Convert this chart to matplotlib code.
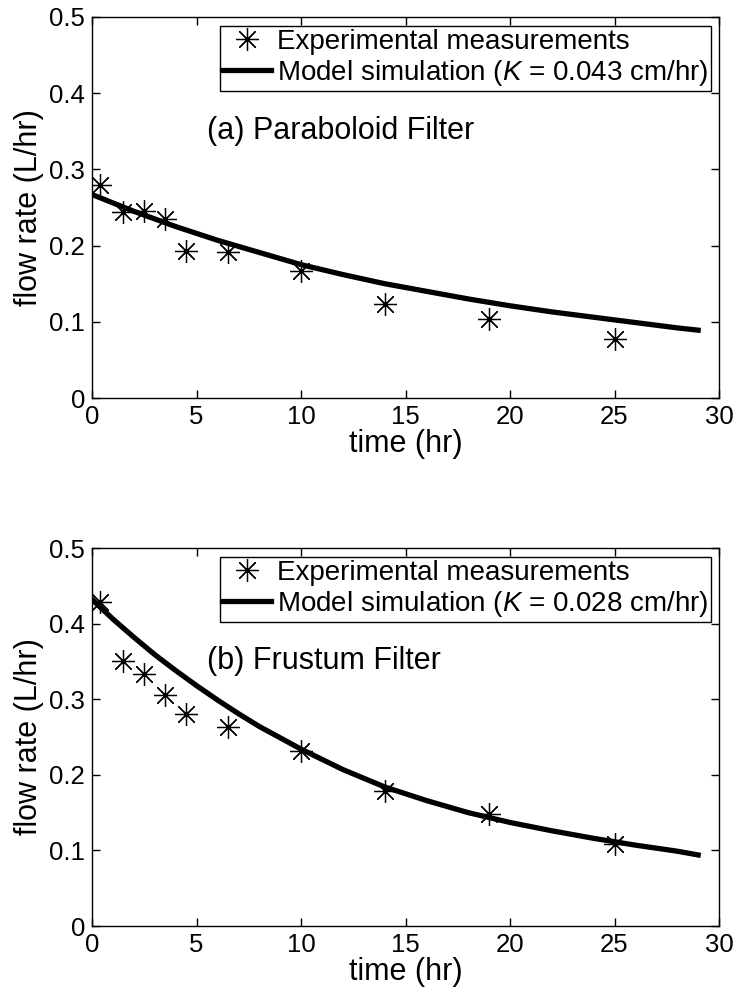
import matplotlib
matplotlib.use("Agg")
import matplotlib.pyplot as plt

plt.rcParams['font.family'] = ['Liberation Sans', 'DejaVu Sans']
plt.rcParams['mathtext.fontset'] = 'custom'
plt.rcParams['mathtext.it'] = 'Liberation Sans:italic'
plt.rcParams['mathtext.rm'] = 'Liberation Sans'

# measured points (time in hr, flow rate in L/hr)
t_meas = [0.4, 1.5, 2.5, 3.5, 4.5, 6.5, 10, 14, 19, 25]
q_para = [0.280, 0.244, 0.245, 0.235, 0.193, 0.192, 0.166, 0.124, 0.104, 0.077]
q_frus = [0.429, 0.350, 0.334, 0.305, 0.280, 0.263, 0.231, 0.178, 0.148, 0.109]

# model curves
t_model = [0, 1, 2, 3, 4, 5, 6, 7, 8, 9, 10, 12, 14, 16, 18, 20, 22, 24, 26, 28, 29]
q_para_model = [0.267, 0.256, 0.245, 0.235, 0.225, 0.216, 0.207, 0.199, 0.191, 0.183, 0.175,
                0.162, 0.150, 0.140, 0.130, 0.121, 0.113, 0.106, 0.099, 0.092, 0.089]
q_frus_model = [0.432, 0.406, 0.382, 0.359, 0.338, 0.318, 0.299, 0.281, 0.264, 0.249, 0.234,
                0.207, 0.184, 0.166, 0.150, 0.137, 0.126, 0.116, 0.107, 0.099, 0.094]

panels = [
    ("(a) Paraboloid Filter", q_para, q_para_model, "0.043"),
    ("(b) Frustum Filter", q_frus, q_frus_model, "0.028"),
]

fig = plt.figure(figsize=(7.38, 9.98), dpi=100)
axes_rects = [[0.1247, 0.6012, 0.8496, 0.3818], [0.1247, 0.0721, 0.8496, 0.3788]]

asterisk = (8, 2, 0)

for rect, (title, q_meas, q_model, k) in zip(axes_rects, panels):
    ax = fig.add_axes(rect)
    ax.plot(t_meas, q_meas, linestyle='none', marker=asterisk, markersize=16.5,
            markeredgewidth=0.9, color='black', label='Experimental measurements')
    ax.plot(t_model, q_model, color='black', linewidth=3.8,
            label=f'Model simulation ($K$ = {k} cm/hr)')

    ax.set_xlim(0, 30)
    ax.set_ylim(0, 0.5)
    ax.set_xticks([0, 5, 10, 15, 20, 25, 30])
    ax.set_yticks([0, 0.1, 0.2, 0.3, 0.4, 0.5])
    ax.set_yticklabels(['0', '0.1', '0.2', '0.3', '0.4', '0.5'])
    ax.tick_params(direction='in', top=True, right=True, length=6, width=1,
                   labelsize=18.5, pad=5)
    for sp in ax.spines.values():
        sp.set_linewidth(1.0)

    ax.set_xlabel('time (hr)', fontsize=22, labelpad=0)
    ax.set_ylabel('flow rate (L/hr)', fontsize=22, labelpad=4)

    ax.text(5.5, 0.35, title, fontsize=22, ha='left', va='center')

    leg = ax.legend(loc='upper right', bbox_to_anchor=(0.987, 0.976), borderaxespad=0,
                    fontsize=20, fancybox=False, framealpha=1, edgecolor='black',
                    handlelength=1.75, handletextpad=0.2, borderpad=0.1,
                    labelspacing=0.12)
    leg.get_frame().set_linewidth(1.0)

fig.savefig('out.png', dpi=100)
